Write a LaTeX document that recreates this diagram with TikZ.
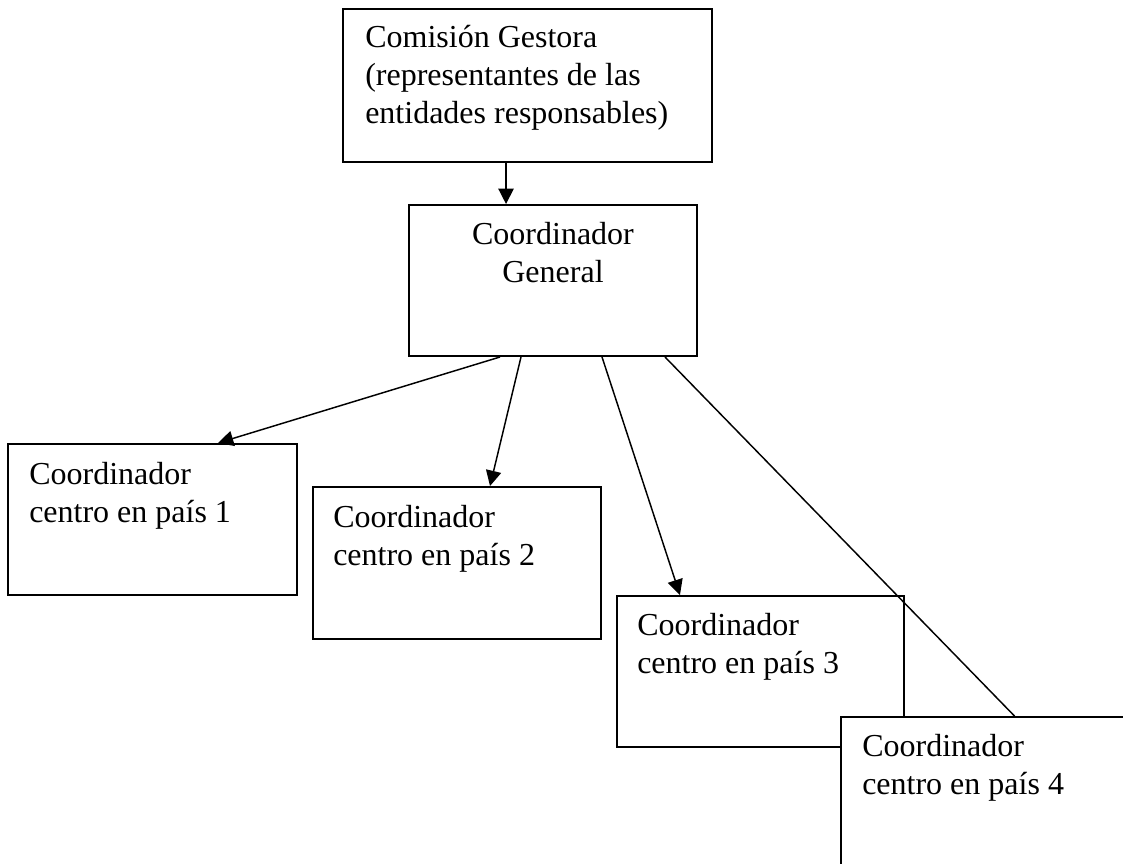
\documentclass[tikz,border=0pt]{standalone}
\usepackage{fontspec}
\setmainfont{Liberation Serif}
\usetikzlibrary{fit,arrows.meta}
\tikzset{
  orgbox/.style={draw=black, line width=1.5pt, fill=white, inner sep=0pt, rectangle},
  lbl/.style={inner sep=0pt, font=\fontsize{24}{28.5}\selectfont},
  link/.style={draw=black, line width=1.1pt},
  arr/.style={link, -{Triangle[length=11.5pt,width=11.5pt]}}
}
\begin{document}
\begin{tikzpicture}[x=0.75pt,y=-0.75pt]
\useasboundingbox (0,0) rectangle (1123,863);
\clip (0,0) rectangle (1123,863);
\fill[white] (0,0) rectangle (1123,863);
% boxes
\node[orgbox, fit={(343,9) (712,162)}] (cg) {};
\node[lbl, anchor=base west] (cgt) at (365,48) {\begin{tabular}[t]{@{}l@{}}Comisión Gestora\\(representantes de las\\entidades responsables)\end{tabular}};
\node[orgbox, fit={(409,205) (697,356)}] (gen) {};
\node[lbl, anchor=base] (gent) at (553,244) {\begin{tabular}[t]{@{}c@{}}Coordinador\\General\end{tabular}};
\node[orgbox, fit={(8,444) (297,595)}] (p1) {};
\node[lbl, anchor=base west] (p1t) at (29,484) {\begin{tabular}[t]{@{}l@{}}Coordinador\\centro en país 1\end{tabular}};
\node[orgbox, fit={(313,487) (601,639)}] (p2) {};
\node[lbl, anchor=base west] (p2t) at (333,527) {\begin{tabular}[t]{@{}l@{}}Coordinador\\centro en país 2\end{tabular}};
\node[orgbox, fit={(617,596) (904,747)}] (p3) {};
\node[lbl, anchor=base west] (p3t) at (637,635) {\begin{tabular}[t]{@{}l@{}}Coordinador\\centro en país 3\end{tabular}};
\node[orgbox, fit={(841,717) (1145,885)}] (p4) {};
\node[lbl, anchor=base west] (p4t) at (862,756) {\begin{tabular}[t]{@{}l@{}}Coordinador\\centro en país 4\end{tabular}};
% connectors
\draw[arr] ([xshift=-16.1pt]cg.south) -- ([xshift=-16.1pt]cg.south |- gen.north);
\draw[arr] ([xshift=-39.75pt]gen.south) -- ([xshift=49.1pt]p1.north);
\draw[arr] ([xshift=-24pt]gen.south) -- ([xshift=24.75pt]p2.north);
\draw[arr] ([xshift=36.75pt]gen.south) -- ([xshift=-60.4pt]p3.north);
\draw[link] ([xshift=84pt]gen.south) -- ([xshift=16.1pt]p4.north);
\end{tikzpicture}
\end{document}
